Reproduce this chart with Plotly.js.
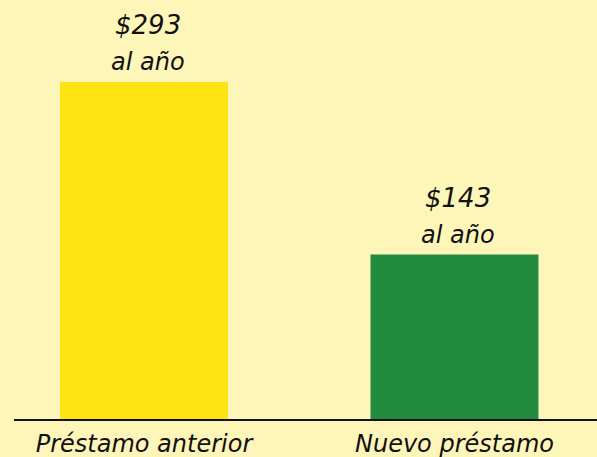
<!DOCTYPE html>
<html><head><meta charset="utf-8">
<script src="https://cdn.plot.ly/plotly-3.0.1.min.js"></script>
<style>html,body{margin:0;padding:0;background:#FEF5B9;}</style>
</head><body>
<div id="chart" style="width:597px;height:457px;"></div>
<script>
const categories = ["Préstamo anterior", "Nuevo préstamo"];
const values = [293, 143];
const valueLabels = ["$293", "$143"];
const unitLabel = "al año";
const barColors = ["#FFE415", "#228B3F"];

const fontFam = "'DejaVu Sans', sans-serif";
const annotations = [];
categories.forEach((c, i) => {
  annotations.push({x: c, y: values[i], text: valueLabels[i], showarrow: false, xref: 'x', yref: 'y',
    yshift: 57, xshift: 4, font: {family: fontFam, size: 26, color: '#111', style: 'italic'}});
  annotations.push({x: c, y: values[i], text: unitLabel, showarrow: false, xref: 'x', yref: 'y',
    yshift: 20, xshift: 4, font: {family: fontFam, size: 24, color: '#111', style: 'italic'}});
});

Plotly.newPlot('chart', [{
  type: 'bar', x: categories, y: values, width: 0.541,
  marker: {color: barColors}, hoverinfo: 'none'
}], {
  width: 597, height: 457,
  margin: {l: 14, r: 0, t: 0, b: 38},
  paper_bgcolor: '#FEF5B9', plot_bgcolor: '#FEF5B9',
  showlegend: false,
  xaxis: {range: [-0.4187, 1.459], showline: true, linecolor: '#111', linewidth: 2,
    ticks: '', showgrid: false, zeroline: false, fixedrange: true, ticklabelstandoff: 2,
    tickfont: {family: fontFam, size: 24, color: '#111', style: 'italic'}},
  yaxis: {range: [0, 364.3], visible: false, showgrid: false, zeroline: false, fixedrange: true},
  annotations: annotations
}, {displayModeBar: false, staticPlot: true});
</script>
</body></html>
